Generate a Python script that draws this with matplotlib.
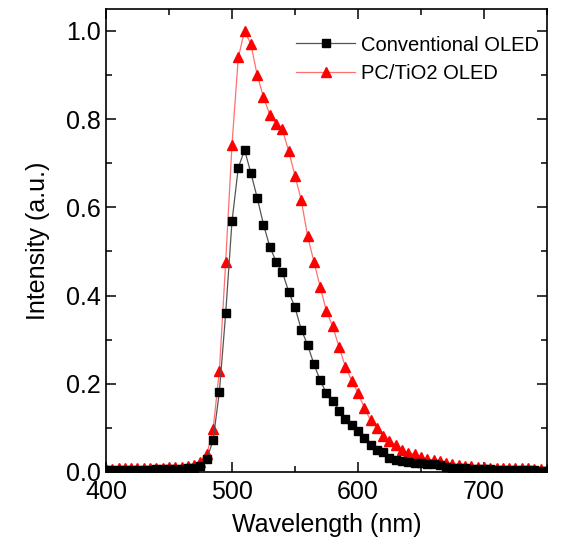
import numpy as np
import matplotlib
matplotlib.use("Agg")
import matplotlib.pyplot as plt
from matplotlib.ticker import MultipleLocator

plt.rcParams['font.family'] = ['Liberation Sans', 'DejaVu Sans']

# wavelength grid, nm (5 nm step)
wavelength = np.arange(400, 751, 5)

# Conventional OLED
conv = [0.004, 0.004, 0.004, 0.005, 0.005, 0.005, 0.005, 0.005, 0.006, 0.006,
        0.006, 0.007, 0.007, 0.008,
        0.010, 0.013, 0.029, 0.072, 0.182, 0.360, 0.568, 0.690, 0.730, 0.678,
        0.622, 0.561, 0.511, 0.477, 0.453, 0.409, 0.373, 0.323, 0.288, 0.245,
        0.208, 0.178, 0.162, 0.139, 0.120, 0.107, 0.094, 0.077, 0.061, 0.049,
        0.046, 0.032, 0.027, 0.024, 0.023, 0.020, 0.021, 0.017, 0.018, 0.015,
        0.011, 0.010, 0.009, 0.008, 0.007, 0.007, 0.006, 0.006, 0.005, 0.005,
        0.005, 0.004, 0.004, 0.004, 0.004, 0.003, 0.003]

# PC/TiO2 OLED
pc = [0.007, 0.007, 0.008, 0.008, 0.008, 0.009, 0.009, 0.009, 0.010, 0.010,
      0.011, 0.011, 0.012, 0.013,
      0.016, 0.022, 0.040, 0.097, 0.230, 0.476, 0.742, 0.940, 1.000, 0.970,
      0.900, 0.850, 0.810, 0.790, 0.777, 0.727, 0.672, 0.616, 0.535, 0.477,
      0.420, 0.364, 0.330, 0.283, 0.239, 0.207, 0.179, 0.146, 0.117, 0.100,
      0.082, 0.070, 0.061, 0.049, 0.044, 0.040, 0.034, 0.029, 0.027, 0.025,
      0.021, 0.018, 0.016, 0.014, 0.013, 0.012, 0.011, 0.010, 0.010, 0.009,
      0.009, 0.008, 0.008, 0.008, 0.007, 0.007, 0.007]

fig = plt.figure(figsize=(5.68, 5.48), dpi=100)
ax = fig.add_axes([0.1866, 0.1387, 0.7764, 0.845])

ax.plot(wavelength, conv, color='#555555', lw=0.9, marker='s', ms=6,
        mfc='black', mec='black', label='Conventional OLED', zorder=3)
ax.plot(wavelength, pc, color='#ff7070', lw=0.9, marker='^', ms=7,
        mfc='red', mec='red', label='PC/TiO2 OLED', zorder=2)

ax.set_xlim(400, 750)
ax.set_ylim(0, 1.05)
ax.xaxis.set_major_locator(MultipleLocator(100))
ax.xaxis.set_minor_locator(MultipleLocator(50))
ax.yaxis.set_major_locator(MultipleLocator(0.2))
ax.yaxis.set_minor_locator(MultipleLocator(0.1))
ax.yaxis.set_major_formatter(matplotlib.ticker.FormatStrFormatter('%.1f'))
ax.tick_params(which='both', direction='in', top=True, right=True,
               labelsize=18, width=1.1)
ax.tick_params(which='major', length=7)
ax.tick_params(which='minor', length=4)
ax.tick_params(axis='x', pad=6)
for s in ax.spines.values():
    s.set_linewidth(1.2)

ax.set_xlabel("Wavelength (nm)", fontsize=18, labelpad=6)
ax.set_ylabel("Intensity (a.u.)", fontsize=18, labelpad=12)

leg = ax.legend(loc='upper right', fontsize=14.5, frameon=False,
                handlelength=2.9, handletextpad=0.3, borderaxespad=0.0,
                labelspacing=0.45, bbox_to_anchor=(1.0, 0.96))

fig.savefig("out.png", dpi=100)
